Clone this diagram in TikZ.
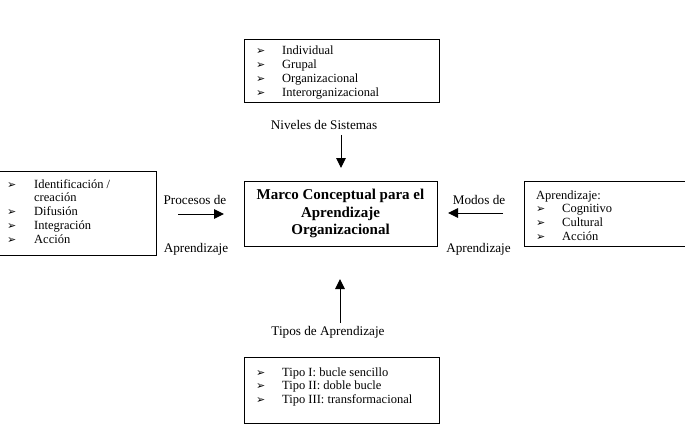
\documentclass[tikz,border=0pt]{standalone}
\usepackage{fontspec}
\setmainfont{Liberation Serif}
\newfontfamily\dvsans{DejaVu Sans}
\usetikzlibrary{arrows.meta}
\newcommand\arrbul{{\dvsans\fontsize{11}{12}\selectfont ➢}}
\newcommand\boxfont{\fontsize{12.5}{13.8}\selectfont}
\newcommand\lblfont{\fontsize{13.2}{15}\selectfont}
\begin{document}
\begin{tikzpicture}[x=1pt,y=-1pt,
  box/.style={draw, line width=0.9pt, inner sep=0pt},
  lst/.style={anchor=base west, inner sep=0pt, font=\boxfont},
  lbl/.style={anchor=base, inner sep=0pt, font=\lblfont},
  arr/.style={-{Triangle[length=10pt,width=9.5pt]}, line width=1pt}]
\useasboundingbox (0,0) rectangle (685,433);
\clip (0,0) rectangle (685,433);
\fill[white] (0,0) rectangle (685,433);

% boxes
\node[box, minimum width=195pt, minimum height=63pt] (top) at (341.5,70.5) {};
\node[box, minimum width=161pt, minimum height=84pt] (left) at (75.5,213) {};
\node[box, minimum width=193pt, minimum height=65pt, align=center,
      font=\bfseries\fontsize{15}{17.5}\selectfont] (cen) at (340.5,213.5)
      {Marco Conceptual para el\\Aprendizaje\\Organizacional};
\node[box, minimum width=166pt, minimum height=65pt] (right) at (607,213.5) {};
\node[box, minimum width=195pt, minimum height=66pt] (bot) at (341.5,390) {};

% lists
\node[lst] (toplist) at (256,55) {\begin{tabular}[t]{@{}p{26pt}@{}l@{}}
\arrbul & Individual\\
\arrbul & Grupal\\
\arrbul & Organizacional\\
\arrbul & Interorganizacional
\end{tabular}};
\node[lst] (leftlist) at (7,188) {\begin{tabular}[t]{@{}p{27pt}@{}l@{}}
\arrbul & Identificación /\\
 & creación\\
\arrbul & Difusión\\
\arrbul & Integración\\
\arrbul & Acción
\end{tabular}};
\node[lst] (rightlist) at (536,199) {\begin{tabular}[t]{@{}p{26pt}@{}l@{}}
\multicolumn{2}{@{}l@{}}{Aprendizaje:}\\
\arrbul & Cognitivo\\
\arrbul & Cultural\\
\arrbul & Acción
\end{tabular}};
\node[lst] (botlist) at (256,376) {\begin{tabular}[t]{@{}p{26pt}@{}l@{}}
\arrbul & Tipo I: bucle sencillo\\
\arrbul & Tipo II: doble bucle\\
\arrbul & Tipo III: transformacional
\end{tabular}};

% labels
\node[lbl] (niv) at (324,129) {Niveles de Sistemas};
\node[lbl] (proc) at (195,204) {Procesos de};
\node[lbl] (procb) at (196,252) {Aprendizaje};
\node[lbl] (mod) at (479,204) {Modos de};
\node[lbl] (modb) at (478.5,252) {Aprendizaje};
\node[lbl] (tip) at (328,335) {Tipos de Aprendizaje};

% arrows
\coordinate (a1s) at (341,135);
\coordinate (a1e) at (341,168);
\coordinate (a2s) at (178,214);
\coordinate (a2e) at (224,214);
\coordinate (a3s) at (503,213);
\coordinate (a3e) at (448,213);
\coordinate (a4s) at (340,323);
\coordinate (a4e) at (340,279);
\draw[arr] (a1s) -- (a1e);
\draw[arr] (a2s) -- (a2e);
\draw[arr] (a3s) -- (a3e);
\draw[arr] (a4s) -- (a4e);
\end{tikzpicture}
\end{document}
